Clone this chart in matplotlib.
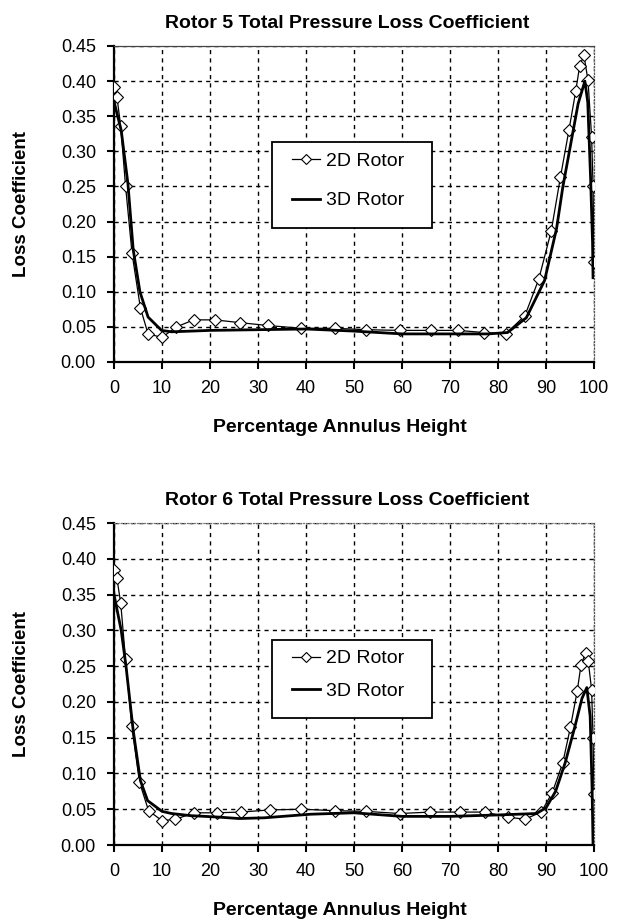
import matplotlib
matplotlib.use('Agg')
import matplotlib.pyplot as plt
from matplotlib.lines import Line2D
from matplotlib.patches import Rectangle

plt.rcParams['font.family'] = ['Liberation Sans', 'DejaVu Sans']

# Rotor 5 - 2D rotor (diamond markers)
r5_2d_x = [0, 0.6, 1.4, 2.4, 3.75, 5.5, 7.1, 10, 13, 16.6, 21, 26.3, 32, 39, 46, 52.5, 59.5,
           66.1, 71.7, 77, 81.6, 85.6, 88.5, 91.1, 93, 94.8, 96.2, 97, 97.9, 98.75, 99.5, 99.8, 100]
r5_2d_y = [0.392, 0.378, 0.336, 0.251, 0.155, 0.077, 0.040, 0.035, 0.050, 0.060, 0.060, 0.056, 0.052,
           0.048, 0.048, 0.046, 0.045, 0.045, 0.045, 0.042, 0.040, 0.066, 0.118, 0.187, 0.263,
           0.331, 0.386, 0.421, 0.437, 0.401, 0.321, 0.251, 0.143]
# Rotor 5 - 3D rotor (thick line)
r5_3d_x = [0, 1.5, 2.9, 4.0, 5.4, 7.1, 9.9, 12, 20, 30, 40, 50, 60, 70, 78, 82,
           85.9, 89.7, 92.2, 93.5, 95.3, 96.7, 98.1, 98.7, 99.3, 99.7, 99.8]
r5_3d_y = [0.371, 0.330, 0.254, 0.160, 0.100, 0.064, 0.045, 0.043, 0.045, 0.046, 0.047, 0.044,
           0.040, 0.040, 0.040, 0.042, 0.063, 0.116, 0.190, 0.249, 0.316, 0.368, 0.400, 0.370,
           0.260, 0.170, 0.120]

# Rotor 6 - 2D rotor
r6_2d_x = [0, 0.6, 1.4, 2.4, 3.7, 5.3, 7.2, 10, 12.8, 16.7, 21.4, 26.4, 32.4, 39, 46, 52.5, 59.5,
           65.9, 72.1, 77.3, 82, 85.6, 89, 91.3, 93.5, 95.1, 96.5, 97.3, 98.3, 98.8, 99.5, 99.8, 100]
r6_2d_y = [0.384, 0.373, 0.338, 0.260, 0.167, 0.088, 0.048, 0.034, 0.036, 0.045, 0.045, 0.046,
           0.049, 0.050, 0.048, 0.047, 0.044, 0.046, 0.046, 0.046, 0.039, 0.036, 0.046, 0.073,
           0.115, 0.165, 0.215, 0.252, 0.269, 0.257, 0.217, 0.150, 0.071]
# Rotor 6 - 3D rotor
r6_3d_x = [0, 1.5, 2.5, 4, 5.5, 7, 10, 12, 16, 21.8, 26, 31.3, 40.9, 50, 60, 70, 80, 88,
           90, 92, 94, 96, 97.5, 98.5, 99.2, 99.6, 99.8]
r6_3d_y = [0.350, 0.300, 0.250, 0.160, 0.090, 0.062, 0.047, 0.044, 0.041, 0.039, 0.037, 0.038,
           0.043, 0.045, 0.040, 0.040, 0.042, 0.044, 0.052, 0.075, 0.115, 0.165, 0.205, 0.220,
           0.180, 0.080, 0.0]

x_ticks = list(range(0, 101, 10))
y_ticks = [i * 0.05 for i in range(10)]
legend_labels = ['2D Rotor', '3D Rotor']

fig = plt.figure(figsize=(6.2, 9.21), dpi=100)
W, H = 620.0, 921.0


def panel(top, bottom, title, x2d, y2d, x3d, y3d, box, leg_anchor, spacing, top_dotted):
    ax = fig.add_axes([114 / W, 1 - bottom / H, 480 / W, (bottom - top) / H])
    ax.plot(x2d, y2d, color='black', lw=0.9, marker='D', ms=6.5, mfc='white', mec='black',
            mew=0.8, zorder=3)
    ax.plot(x3d, y3d, color='black', lw=2.0, zorder=4)
    ax.set_xlim(0, 100)
    ax.set_ylim(0, 0.45)
    ax.set_xticks(x_ticks)
    ax.set_yticks(y_ticks)
    ax.set_yticklabels(['%.2f' % v for v in y_ticks])
    ax.grid(True, color='black', linestyle=(0, (3, 3)), lw=1.0)
    ax.set_axisbelow(True)
    ax.tick_params(direction='out', length=5, width=1.5, labelsize=13, pad=8)
    for s in ['left', 'bottom']:
        ax.spines[s].set_linewidth(1.6)
    ax.spines['right'].set_linestyle(':')
    ax.spines['right'].set_linewidth(0.9)
    ax.spines['right'].set_color('#555555')
    if top_dotted:
        ax.spines['top'].set_linestyle(':')
        ax.spines['top'].set_color('#777777')
    else:
        ax.spines['top'].set_color('#444444')
    ax.spines['top'].set_linewidth(0.9)
    ax.set_title(title, fontsize=14, fontweight='bold', pad=13, x=0.485)
    ax.set_xlabel('Percentage Annulus Height', fontsize=14, fontweight='bold')
    ax.xaxis.set_label_coords(0.471, -(57.0 / (bottom - top)))
    ax.set_ylabel('Loss Coefficient', fontsize=13.5, fontweight='bold')
    ax.yaxis.set_label_coords(-(84.0 / 480), 0.5)

    # legend box drawn separately so its size can follow the picture
    ax.add_patch(Rectangle((box[0], box[1]), box[2], box[3], transform=ax.transAxes,
                           facecolor='white', edgecolor='black', lw=1.3, zorder=5))
    handles = [Line2D([], [], color='black', lw=0.9, marker='D', ms=5.5, mfc='white', mec='black', mew=0.8),
               Line2D([], [], color='black', lw=2.0)]
    lg = ax.legend(handles, legend_labels, loc='upper left', bbox_to_anchor=leg_anchor,
                   fontsize=14, frameon=False, labelspacing=spacing, borderpad=0,
                   handlelength=1.44, handletextpad=0.31, borderaxespad=0)
    lg.set_zorder(6)
    return ax


panel(46, 362, 'Rotor 5 Total Pressure Loss Coefficient', r5_2d_x, r5_2d_y, r5_3d_x, r5_3d_y,
      (0.3285, 0.423, 0.3333, 0.274), (0.370, 0.664), 1.13, False)
panel(523, 845, 'Rotor 6 Total Pressure Loss Coefficient', r6_2d_x, r6_2d_y, r6_3d_x, r6_3d_y,
      (0.3285, 0.393, 0.3333, 0.244), (0.370, 0.606), 0.77, True)

fig.savefig('out.png', dpi=100)
